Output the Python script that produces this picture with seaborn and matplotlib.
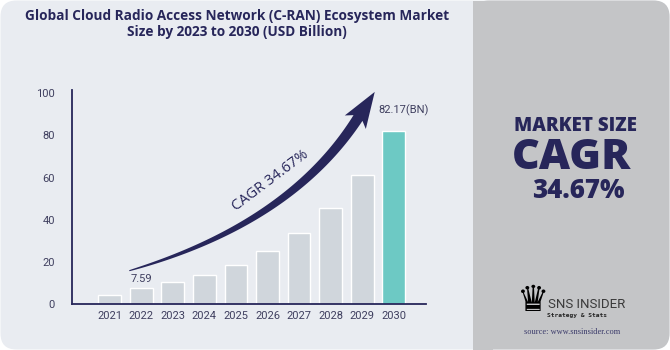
import numpy as np
import pandas as pd
import seaborn as sns
import matplotlib
matplotlib.use("Agg")
import matplotlib.pyplot as plt
from matplotlib.patches import FancyBboxPatch, Polygon, Rectangle
from matplotlib.transforms import Affine2D

# ---- data ----
years = ["2021", "2022", "2023", "2024", "2025", "2026", "2027", "2028", "2029", "2030"]
market_size = [4.4, 7.59, 10.5, 14.0, 18.7, 25.2, 34.0, 45.7, 61.4, 82.17]
bar_colors = ["#D0D6DC"] * 9 + ["#6DC9C4"]
y_ticks = [0, 20, 40, 60, 80, 100]
title = "Global Cloud Radio Access Network (C-RAN) Ecosystem Market\nSize by 2023 to 2030 (USD Billion)"
cagr_text = "CAGR 34.67%"
label_2022 = "7.59"
label_2030 = "82.17(BN)"

NAVY = "#27265A"
TICK = "#3F3F5F"

sns.set_theme(style="white")
plt.rcParams["font.family"] = ["Roboto", "DejaVu Sans"]

W, H = 670, 350
fig = plt.figure(figsize=(W / 100, H / 100), dpi=100)
fig.patch.set_facecolor("white")

# pixel transform (origin top-left)
px = Affine2D().scale(1 / W, -1 / H).translate(0, 1) + fig.transFigure

# backgrounds
card = FancyBboxPatch((0.5, 0.5), W - 1, H - 1, boxstyle="round,pad=0,rounding_size=16",
                      transform=px, facecolor="#E9ECF1", edgecolor="none", zorder=0)
fig.patches.append(card)
right = FancyBboxPatch((473, 0.5), W - 473 - 0.5, H - 1, boxstyle="round,pad=0,rounding_size=16",
                       transform=px, facecolor="#C4C5C7", edgecolor="none", zorder=1)
fig.patches.append(right)
fig.patches.append(Rectangle((473, 0.5), 20, H - 1, transform=px, facecolor="#C4C5C7",
                             edgecolor="none", zorder=1))

# axes
ax = fig.add_axes([71.7 / W, 1 - 304.3 / H, (426 - 71.7) / W, (304.3 - 90) / H])
ax.set_zorder(3)
ax.set_facecolor("none")
df = pd.DataFrame({"year": years, "value": market_size})
sns.barplot(data=df, x="year", y="value", hue="year", palette=bar_colors, legend=False,
            width=0.72, ax=ax, saturation=1)
ax.set_xlim(-1.2, 10.02)
ax.set_ylim(0, 101.5)
ax.set_yticks(y_ticks)
ax.set_yticklabels([str(v) for v in y_ticks])
ax.set_xlabel("")
ax.set_ylabel("")
for s in ["top", "right"]:
    ax.spines[s].set_visible(False)
for s in ["left", "bottom"]:
    ax.spines[s].set_color(NAVY)
    ax.spines[s].set_linewidth(1.3)
ax.tick_params(axis="both", length=0, labelsize=8, labelcolor=TICK)
ax.tick_params(axis="y", pad=12)
ax.tick_params(axis="x", pad=5)

# value labels
ax.annotate(label_2022, (1, market_size[1]), xytext=(0, 3), textcoords="offset points",
            ha="center", va="bottom", fontsize=8, color=TICK)
ax.annotate(label_2030, (9, market_size[9]), xytext=(7, 11), textcoords="offset points",
            ha="center", va="bottom", fontsize=8, color=TICK)

# curved growth arrow (decoration, pixel space)
P0 = np.array([129.3, 270.7])
P1 = np.array([290.0, 224.0])
P2 = np.array([358.0, 118.0])
t = np.linspace(0, 1, 100)
curve = ((1 - t) ** 2)[:, None] * P0 + (2 * (1 - t) * t)[:, None] * P1 + (t ** 2)[:, None] * P2
deriv = (2 * (1 - t))[:, None] * (P1 - P0) + (2 * t)[:, None] * (P2 - P1)
tang = deriv / np.linalg.norm(deriv, axis=1)[:, None]
norm = np.stack([-tang[:, 1], tang[:, 0]], axis=1)
hw = 0.5 + 4.8 * t ** 0.75
upper = curve + norm * hw[:, None]
lower = curve - norm * hw[:, None]
te = tang[-1]
ne = norm[-1]
tip = P2 + te * 31
wing1 = P2 + ne * 12.5 - te * 5
wing2 = P2 - ne * 12.5 - te * 5
pts = np.vstack([lower, wing2, tip, wing1, upper[::-1]])
fig.patches.append(Polygon(pts, closed=True, transform=px, facecolor=NAVY, edgecolor="none", zorder=5))

fig.text(270 / W, 1 - 181 / H, cagr_text, rotation=37, ha="center", va="center",
         fontsize=10.5, color=NAVY, family=["Open Sans", "DejaVu Sans"], fontweight="medium", zorder=6)

# title
fig.text(237 / W, 1 - 24 / H, title, ha="center", va="center", fontsize=9.8, color=NAVY,
         family=["Open Sans", "DejaVu Sans"], fontweight="bold", linespacing=1.2)

# right panel text
fig.text(575 / W, 1 - 126 / H, "MARKET SIZE", ha="center", va="center", fontsize=13.5,
         color=NAVY, family=["Open Sans", "DejaVu Sans"], fontweight="heavy")
fig.text(571 / W, 1 - 158 / H, "CAGR", ha="center", va="center", fontsize=31,
         color=NAVY, family=["Open Sans", "DejaVu Sans"], fontweight="heavy")
fig.text(578 / W, 1 - 191 / H, "34.67%", ha="center", va="center", fontsize=18.5,
         color=NAVY, family=["Open Sans", "DejaVu Sans"], fontweight="heavy")

# logo
fig.text(533 / W, 1 - 301 / H, "\u265B", ha="center", va="center", fontsize=26, color="black",
         family=["DejaVu Sans"])
fig.text(548 / W, 1 - 304 / H, "SNS INSIDER", ha="left", va="center", fontsize=9.5,
         color="#3A3A3A", family=["Roboto", "DejaVu Sans"], fontstretch="condensed")
fig.text(547 / W, 1 - 315 / H, "Strategy & Stats", ha="left", va="center", fontsize=4.5,
         color="#222222", family=["DejaVu Sans Mono", "DejaVu Sans"], fontweight="bold")
fig.text(572 / W, 1 - 332 / H, "source: www.snsinsider.com", ha="center", va="center", fontsize=6,
         color="#3A3A6A", family=["Liberation Serif", "DejaVu Serif"])

fig.savefig("out.png", dpi=100, facecolor="white")
